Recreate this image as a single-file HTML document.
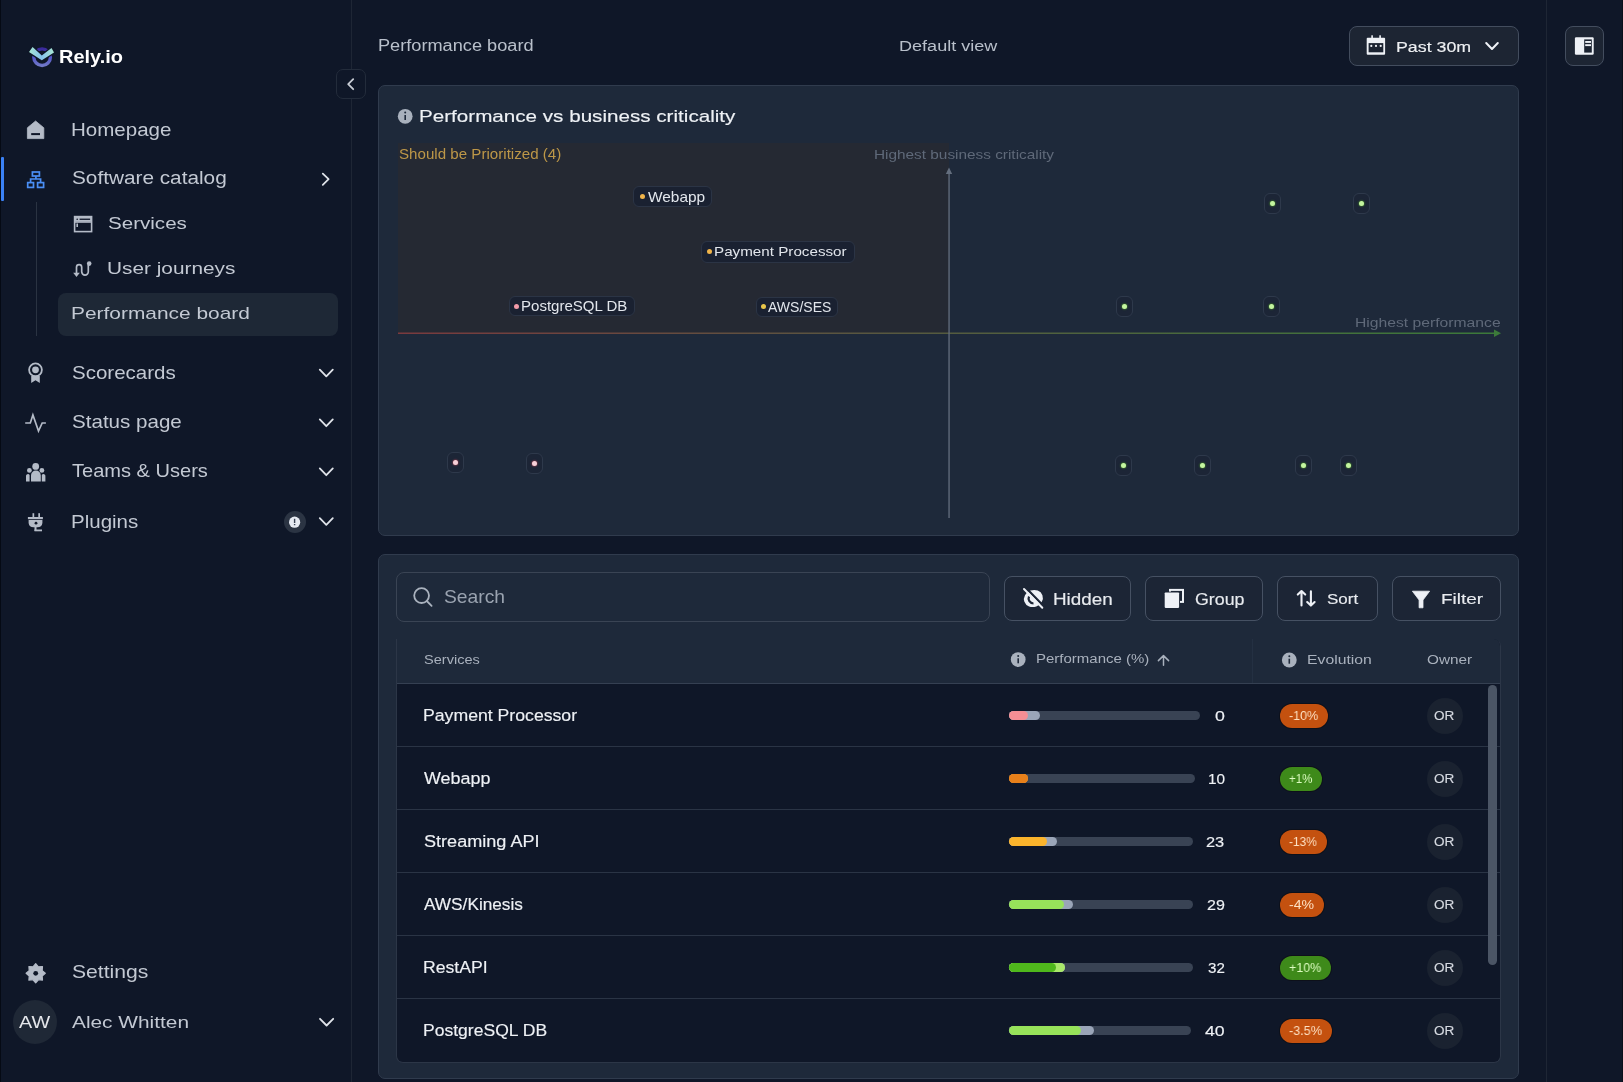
<!DOCTYPE html>
<html><head><meta charset="utf-8"><style>
*{margin:0;padding:0;box-sizing:border-box}
html,body{width:1623px;height:1082px;overflow:hidden;background:#0f1728;font-family:"Liberation Sans",sans-serif}
.t{position:absolute;white-space:pre;transform-origin:0 0;will-change:transform}
.a{position:absolute}
svg{position:absolute;overflow:visible}
</style></head><body>
<div class="a" style="left:0;top:0;width:351px;height:1082px;background:#0f1728"></div>
<div class="a" style="left:351px;top:0;width:1px;height:1082px;background:#1e2635"></div>
<div class="a" style="left:1546px;top:0;width:1px;height:1082px;background:#1e2635"></div>
<div class="a" style="left:0;top:0;width:1px;height:1082px;background:#050a14"></div>
<div class="a" style="left:1622px;top:0;width:1px;height:1082px;background:#0a0f1a"></div>
<div class="a" style="left:1px;top:157px;width:3px;height:44px;background:#3b82f6;border-radius:1px"></div>
<div class="a" style="left:36px;top:202px;width:1px;height:134px;background:#2a3342"></div>
<div class="a" style="left:58px;top:293px;width:280px;height:43px;background:#1e2836;border-radius:8px"></div>
<div class="a" style="left:336px;top:69px;width:30px;height:30px;background:#0f1728;border:1px solid #232c3b;border-radius:7px"></div>
<div class="a" style="left:284px;top:511px;width:22px;height:22px;background:#2b3443;border-radius:50%"></div>
<div class="a" style="left:13px;top:1000px;width:44px;height:44px;background:#1f2836;border-radius:50%"></div>
<div class="a" style="left:1349px;top:26px;width:170px;height:40px;background:#1d2533;border:1px solid #434d5e;border-radius:8px"></div>
<div class="a" style="left:1565px;top:26px;width:39px;height:40px;background:#1d2533;border:1px solid #434d5e;border-radius:8px"></div>
<div class="a" style="left:378px;top:85px;width:141px;height:451px;"></div>
<div class="a" style="left:378px;top:85px;width:1141px;height:451px;background:#1e293a;border:1px solid #303b4d;border-radius:7px"></div>
<div class="a" style="left:398px;top:143px;width:551px;height:190px;background:#252933"></div>
<div class="a" style="left:378px;top:554px;width:1141px;height:525px;background:#1e293a;border:1px solid #303b4d;border-radius:7px"></div>
<div class="a" style="left:396px;top:572px;width:594px;height:50px;background:#1e293a;border:1px solid #3a4454;border-radius:8px"></div>
<div class="a" style="left:1004px;top:576px;width:127px;height:45px;background:#1c2535;border:1px solid #465163;border-radius:8px"></div>
<div class="a" style="left:1145px;top:576px;width:118px;height:45px;background:#1c2535;border:1px solid #465163;border-radius:8px"></div>
<div class="a" style="left:1277px;top:576px;width:101px;height:45px;background:#1c2535;border:1px solid #465163;border-radius:8px"></div>
<div class="a" style="left:1392px;top:576px;width:109px;height:45px;background:#1c2535;border:1px solid #465163;border-radius:8px"></div>
<div class="a" style="left:396px;top:639px;width:105px;height:423px;"></div>
<div class="a" style="left:396px;top:639px;width:1105px;height:424px;background:#0f1728;border:1px solid #2c3647;border-top:none;border-radius:0 7px 7px 7px;overflow:hidden"><div class="a" style="left:0;top:0;width:1105px;height:45px;background:#1e293a"></div><div class="a" style="left:855px;top:0;width:1px;height:45px;background:#243042"></div><div class="a" style="left:0;top:44px;width:1105px;height:1px;background:#354052"></div><div class="a" style="left:0;top:107px;width:1105px;height:1px;background:#2a3445"></div><div class="a" style="left:0;top:170px;width:1105px;height:1px;background:#2a3445"></div><div class="a" style="left:0;top:233px;width:1105px;height:1px;background:#2a3445"></div><div class="a" style="left:0;top:296px;width:1105px;height:1px;background:#2a3445"></div><div class="a" style="left:0;top:359px;width:1105px;height:1px;background:#2a3445"></div></div>
<div class="a" style="left:1488px;top:685px;width:9px;height:280px;background:#4b5565;border-radius:5px"></div>
<svg style="left:0;top:0" width="1623" height="1082"><defs><linearGradient id="hx" x1="0" x2="1"><stop offset="0" stop-color="#7a3a3e"/><stop offset="0.4" stop-color="#5a5540"/><stop offset="1" stop-color="#3c7a3a"/></linearGradient></defs><rect x="398" y="332.5" width="1098" height="1.5" fill="url(#hx)"/><path d="M1494 329.5 L1501 333.2 L1494 337 Z" fill="#3c7a3a"/><rect x="948.4" y="172" width="1.3" height="346" fill="#646e7e"/><path d="M945.8 174 L949 167.5 L952.2 174 Z" fill="#646e7e"/></svg>
<div class="a" style="left:633px;top:186px;width:79px;height:21px;background:#1a2131;border:1px solid #2b3445;border-radius:6px"></div>
<div class="a" style="left:639.8px;top:194.1px;width:5px;height:5px;background:#f0b44a;border-radius:50%"></div>
<div class="a" style="left:701px;top:241px;width:154px;height:22px;background:#1a2131;border:1px solid #2b3445;border-radius:6px"></div>
<div class="a" style="left:707.2px;top:249.1px;width:5px;height:5px;background:#f0b44a;border-radius:50%"></div>
<div class="a" style="left:509px;top:296px;width:126px;height:20px;background:#1a2131;border:1px solid #2b3445;border-radius:6px"></div>
<div class="a" style="left:514.1px;top:303.5px;width:5px;height:5px;background:#f19aa8;border-radius:50%"></div>
<div class="a" style="left:756px;top:297px;width:82px;height:20px;background:#1a2131;border:1px solid #2b3445;border-radius:6px"></div>
<div class="a" style="left:760.6px;top:304.1px;width:5px;height:5px;background:#e8c54a;border-radius:50%"></div>
<div class="a" style="left:1263.9px;top:192.9px;width:17px;height:21px;background:#1c2536;border:1px solid #2e394b;border-radius:6px"></div>
<div class="a" style="left:1269.9px;top:200.9px;width:5px;height:5px;background:#c4f5a0;border-radius:50%;box-shadow:0 0 1.5px 0.5px #3f7a2a"></div>
<div class="a" style="left:1352.9px;top:192.9px;width:17px;height:21px;background:#1c2536;border:1px solid #2e394b;border-radius:6px"></div>
<div class="a" style="left:1358.9px;top:200.9px;width:5px;height:5px;background:#c4f5a0;border-radius:50%;box-shadow:0 0 1.5px 0.5px #3f7a2a"></div>
<div class="a" style="left:1116.1px;top:295.5px;width:17px;height:21px;background:#1c2536;border:1px solid #2e394b;border-radius:6px"></div>
<div class="a" style="left:1122.1px;top:303.5px;width:5px;height:5px;background:#c4f5a0;border-radius:50%;box-shadow:0 0 1.5px 0.5px #3f7a2a"></div>
<div class="a" style="left:1262.8px;top:295.5px;width:17px;height:21px;background:#1c2536;border:1px solid #2e394b;border-radius:6px"></div>
<div class="a" style="left:1268.8px;top:303.5px;width:5px;height:5px;background:#c4f5a0;border-radius:50%;box-shadow:0 0 1.5px 0.5px #3f7a2a"></div>
<div class="a" style="left:1115.3px;top:454.5px;width:17px;height:21px;background:#1c2536;border:1px solid #2e394b;border-radius:6px"></div>
<div class="a" style="left:1121.3px;top:462.5px;width:5px;height:5px;background:#c4f5a0;border-radius:50%;box-shadow:0 0 1.5px 0.5px #3f7a2a"></div>
<div class="a" style="left:1193.8px;top:454.5px;width:17px;height:21px;background:#1c2536;border:1px solid #2e394b;border-radius:6px"></div>
<div class="a" style="left:1199.8px;top:462.5px;width:5px;height:5px;background:#c4f5a0;border-radius:50%;box-shadow:0 0 1.5px 0.5px #3f7a2a"></div>
<div class="a" style="left:1295.3px;top:454.5px;width:17px;height:21px;background:#1c2536;border:1px solid #2e394b;border-radius:6px"></div>
<div class="a" style="left:1301.3px;top:462.5px;width:5px;height:5px;background:#c4f5a0;border-radius:50%;box-shadow:0 0 1.5px 0.5px #3f7a2a"></div>
<div class="a" style="left:1340.3px;top:454.5px;width:17px;height:21px;background:#1c2536;border:1px solid #2e394b;border-radius:6px"></div>
<div class="a" style="left:1346.3px;top:462.5px;width:5px;height:5px;background:#c4f5a0;border-radius:50%;box-shadow:0 0 1.5px 0.5px #3f7a2a"></div>
<div class="a" style="left:446.7px;top:451.9px;width:17px;height:21px;background:#1c2536;border:1px solid #2e394b;border-radius:6px"></div>
<div class="a" style="left:452.7px;top:459.9px;width:5px;height:5px;background:#f6d0d8;border-radius:50%;box-shadow:0 0 1.5px 0.5px #8a3a4a"></div>
<div class="a" style="left:525.7px;top:453.1px;width:17px;height:21px;background:#1c2536;border:1px solid #2e394b;border-radius:6px"></div>
<div class="a" style="left:531.7px;top:461.1px;width:5px;height:5px;background:#f6d0d8;border-radius:50%;box-shadow:0 0 1.5px 0.5px #8a3a4a"></div>
<div class="a" style="left:1008.6px;top:711.0px;width:191.8px;height:9.2px;background:#394354;border-radius:5px"></div>
<div class="a" style="left:1008.6px;top:711.0px;width:31.4px;height:9.2px;background:#9aa5b8;border-radius:5px"></div>
<div class="a" style="left:1008.6px;top:711.0px;width:19.4px;height:9.2px;background:#f58e94;border-radius:5px"></div>
<div class="a" style="left:1008.6px;top:774.0px;width:186.7px;height:9.2px;background:#394354;border-radius:5px"></div>
<div class="a" style="left:1008.6px;top:774.0px;width:19.4px;height:9.2px;background:#f5a53a;border-radius:5px"></div>
<div class="a" style="left:1008.6px;top:774.0px;width:19.4px;height:9.2px;background:#e8801a;border-radius:5px"></div>
<div class="a" style="left:1008.6px;top:837.1px;width:184.0px;height:9.2px;background:#394354;border-radius:5px"></div>
<div class="a" style="left:1008.6px;top:837.1px;width:48.4px;height:9.2px;background:#9aa5b8;border-radius:5px"></div>
<div class="a" style="left:1008.6px;top:837.1px;width:38.4px;height:9.2px;background:#fbb42c;border-radius:5px"></div>
<div class="a" style="left:1008.6px;top:900.1px;width:184.4px;height:9.2px;background:#394354;border-radius:5px"></div>
<div class="a" style="left:1008.6px;top:900.1px;width:64.2px;height:9.2px;background:#9aa5b8;border-radius:5px"></div>
<div class="a" style="left:1008.6px;top:900.1px;width:55.7px;height:9.2px;background:#97e35a;border-radius:5px"></div>
<div class="a" style="left:1008.6px;top:963.2px;width:184.9px;height:9.2px;background:#394354;border-radius:5px"></div>
<div class="a" style="left:1008.6px;top:963.2px;width:56.4px;height:9.2px;background:#9aa5b8;border-radius:5px"></div>
<div class="a" style="left:1008.6px;top:963.2px;width:56.4px;height:9.2px;background:#a9e86a;border-radius:5px"></div>
<div class="a" style="left:1008.6px;top:963.2px;width:47.4px;height:9.2px;background:#4fb81c;border-radius:5px"></div>
<div class="a" style="left:1008.6px;top:1026.2px;width:182.2px;height:9.2px;background:#394354;border-radius:5px"></div>
<div class="a" style="left:1008.6px;top:1026.2px;width:85.4px;height:9.2px;background:#9aa5b8;border-radius:5px"></div>
<div class="a" style="left:1008.6px;top:1026.2px;width:72.8px;height:9.2px;background:#97e35a;border-radius:5px"></div>
<div class="a" style="left:1280px;top:703.8px;width:48.3px;height:24.4px;background:#c4510f;border-radius:12px;box-shadow:0 0 0 1px rgba(10,8,8,0.45)"></div>
<div class="a" style="left:1426.7px;top:698.0px;width:36px;height:36px;background:#1a2230;border-radius:50%"></div>
<div class="a" style="left:1280px;top:766.8px;width:42.4px;height:24.4px;background:#3e8a1a;border-radius:12px;box-shadow:0 0 0 1px rgba(10,8,8,0.45)"></div>
<div class="a" style="left:1426.7px;top:761.0px;width:36px;height:36px;background:#1a2230;border-radius:50%"></div>
<div class="a" style="left:1280px;top:829.9px;width:47.0px;height:24.4px;background:#c4510f;border-radius:12px;box-shadow:0 0 0 1px rgba(10,8,8,0.45)"></div>
<div class="a" style="left:1426.7px;top:824.1px;width:36px;height:36px;background:#1a2230;border-radius:50%"></div>
<div class="a" style="left:1280px;top:892.9px;width:44.1px;height:24.4px;background:#c4510f;border-radius:12px;box-shadow:0 0 0 1px rgba(10,8,8,0.45)"></div>
<div class="a" style="left:1426.7px;top:887.1px;width:36px;height:36px;background:#1a2230;border-radius:50%"></div>
<div class="a" style="left:1280px;top:956.0px;width:51.3px;height:24.4px;background:#3e8a1a;border-radius:12px;box-shadow:0 0 0 1px rgba(10,8,8,0.45)"></div>
<div class="a" style="left:1426.7px;top:950.2px;width:36px;height:36px;background:#1a2230;border-radius:50%"></div>
<div class="a" style="left:1280px;top:1019.0px;width:52.0px;height:24.4px;background:#c4510f;border-radius:12px;box-shadow:0 0 0 1px rgba(10,8,8,0.45)"></div>
<div class="a" style="left:1426.7px;top:1013.2px;width:36px;height:36px;background:#1a2230;border-radius:50%"></div>
<svg style="left:0;top:0" width="1623" height="1082" viewBox="0 0 1623 1082">
<defs>
<linearGradient id="lg1" x1="0" y1="0" x2="1" y2="0"><stop offset="0" stop-color="#a8e6d0"/><stop offset="0.5" stop-color="#86c4ee"/><stop offset="1" stop-color="#a8e6d0"/></linearGradient>
<linearGradient id="lg2" x1="0" y1="0" x2="0" y2="1"><stop offset="0" stop-color="#3a2a9a"/><stop offset="0.45" stop-color="#5050c8"/><stop offset="1" stop-color="#7078c8"/></linearGradient>
</defs>
<!-- logo -->
<circle cx="42.1" cy="57.2" r="8.3" fill="none" stroke="url(#lg2)" stroke-width="3.4"/>
<path d="M32.6,47.1 L41.8,55.5 L51.5,48 L54,52.5 L41.8,60.2 L29,52.1 Z" fill="#0f1728" stroke="#0f1728" stroke-width="2.6" stroke-linejoin="round"/>
<path d="M32.6,47.1 L41.8,55.5 L51.5,48 L54,52.5 L41.8,60.2 L29,52.1 Z" fill="url(#lg1)"/>
<!-- home -->
<path d="M27.4,127.8 L35.6,121 L43.8,127.8 L43.8,138.6 L27.4,138.6 Z" fill="#b4bbc7" stroke="#b4bbc7" stroke-width="0.8" stroke-linejoin="round"/>
<rect x="31.2" y="133.1" width="8.8" height="2" fill="#0f1728"/>
<!-- hierarchy -->
<g fill="none" stroke="#4a8ff5" stroke-width="1.7">
<rect x="32.4" y="172" width="7" height="4"/>
<rect x="27.7" y="182.6" width="5.8" height="4.8"/>
<rect x="37.6" y="182.6" width="6" height="4.8"/>
<path d="M35.9,176 V179 M30.6,182.6 V179 H40.6 V182.6"/>
</g>
<!-- services -->
<g fill="none" stroke="#b4bbc7" stroke-width="1.6">
<rect x="74.6" y="216.6" width="17" height="15"/>
<path d="M74.6,222 H91.6"/>
</g>
<g fill="#b4bbc7"><rect x="74.6" y="216.6" width="17" height="5"/></g>
<g fill="#0f1728"><circle cx="77.2" cy="219.3" r="0.8"/><rect x="79.6" y="218.6" width="10.5" height="1.3"/></g>
<rect x="76.4" y="223.5" width="1.6" height="3.5" fill="#b4bbc7"/>
<!-- user journeys -->
<g fill="none" stroke="#b4bbc7" stroke-width="1.7" stroke-linecap="round">
<path d="M76.5,273.5 V267.2 a2.6,2.6 0 0 1 5.2,0 V271.8 a3.3,3.3 0 0 0 6.6,0 V265"/>
</g>
<path d="M73.2,272.8 L79.8,272.8 L76.5,277 Z" fill="#b4bbc7"/>
<circle cx="89.2" cy="263.6" r="2.3" fill="#b4bbc7"/>
<!-- scorecards -->
<circle cx="35.5" cy="369.8" r="6.4" fill="none" stroke="#b4bbc7" stroke-width="1.8"/>
<circle cx="35.5" cy="369.8" r="3.4" fill="#b4bbc7"/>
<path d="M31.2,376 L31.2,383 L35.5,380.2 L39.8,383 L39.8,376 Z" fill="#b4bbc7"/>
<!-- status -->
<polyline points="25.2,423 30.3,423 32.9,415 38.5,431 42.2,423 45.9,423" fill="none" stroke="#b4bbc7" stroke-width="1.7" stroke-linejoin="miter"/>
<!-- teams -->
<g fill="#b4bbc7">
<circle cx="35.7" cy="466.4" r="3.4"/>
<circle cx="29.4" cy="470.4" r="2.4"/>
<circle cx="41.9" cy="470.4" r="2.4"/>
<path d="M31,481.5 V475.5 a4.9,4.9 0 0 1 9.8,0 V481.5 Z"/>
<path d="M26,481.5 V476.5 a2,2 0 0 1 3.6,-1.5 V481.5 Z"/>
<path d="M45.4,481.5 V476.5 a2,2 0 0 0 -3.6,-1.5 V481.5 Z"/>
</g>
<!-- plugins -->
<g fill="#b4bbc7">
<rect x="32.5" y="513.2" width="1.7" height="4.5"/>
<rect x="38.3" y="513.2" width="1.7" height="4.5"/>
<rect x="27.9" y="517" width="15" height="2.2"/>
<path d="M28.6,520 H42.4 V523 a5,5 0 0 1 -5,4.3 H33.6 a5,5 0 0 1 -5,-4.3 Z"/>
<rect x="34.5" y="527" width="2" height="4"/>
<rect x="34.5" y="529.5" width="7.5" height="1.8"/>
</g>
<circle cx="36" cy="523.2" r="1.4" fill="#0f1728"/>
<!-- settings gear -->
<g transform="translate(35.7 973.3)">
<path fill="#b4bbc7" stroke="#b4bbc7" stroke-width="1.2" stroke-linejoin="round" d="M0.00,-9.60 L2.68,-6.47 L6.79,-6.79 L6.47,-2.68 L9.60,0.00 L6.47,2.68 L6.79,6.79 L2.68,6.47 L0.00,9.60 L-2.68,6.47 L-6.79,6.79 L-6.47,2.68 L-9.60,0.00 L-6.47,-2.68 L-6.79,-6.79 L-2.68,-6.47 Z"/>
<circle r="2.4" fill="#0f1728"/>
</g>
<!-- chevrons sidebar -->
<g fill="none" stroke="#dfe3e9" stroke-width="1.8" stroke-linecap="round" stroke-linejoin="round">
<polyline points="322.8,173.6 328.6,179.2 322.8,184.8"/>
<polyline points="319.8,369.6 326.3,376.3 332.8,369.6"/>
<polyline points="319.8,419.4 326.3,426.2 332.8,419.4"/>
<polyline points="319.8,468.4 326.3,475.2 332.8,468.4"/>
<polyline points="319.8,518.2 326.3,524.8 332.8,518.2"/>
<polyline points="320,1018.8 326.6,1025.5 333.2,1018.8"/>
<polyline points="353.2,79.2 348.2,84.2 353.2,89.2" stroke="#c9ced6"/>
<polyline points="1486.2,43 1492,49 1497.8,43" stroke="#eef1f6" stroke-width="2"/>
</g>
<!-- plugins badge inner -->
<circle cx="294.6" cy="522.2" r="5.6" fill="#e6eaf2"/>
<rect x="293.9" y="518.8" width="1.4" height="4.2" fill="#3a4354"/>
<rect x="293.9" y="524" width="1.4" height="1.2" fill="#3a4354"/>
<!-- calendar -->
<g fill="#eef1f6">
<rect x="1366.7" y="37.8" width="18.4" height="16.9" rx="1"/>
<rect x="1371.3" y="35.3" width="1.6" height="3"/>
<rect x="1379.3" y="35.3" width="1.6" height="3"/>
</g>
<rect x="1368.6" y="43.1" width="14.7" height="9.2" fill="#1b2331"/>
<g fill="#eef1f6"><circle cx="1371.3" cy="45.9" r="1.1"/><circle cx="1376" cy="45.9" r="1.1"/><circle cx="1380.7" cy="45.9" r="1.1"/></g>
<!-- panel icon -->
<rect x="1574.9" y="37.3" width="18.8" height="17.5" rx="1.2" fill="#eef1f6"/>
<rect x="1584.2" y="39.4" width="7.6" height="13.2" fill="#1b2331"/>
<rect x="1585.2" y="41" width="5.8" height="1.9" fill="#eef1f6"/>
<rect x="1585.2" y="44.2" width="5.8" height="1.9" fill="#eef1f6"/>
<!-- card title info -->
<circle cx="405.2" cy="116.3" r="7.4" fill="#a9b1bd"/>
<rect x="404.4" y="115" width="1.6" height="5" fill="#1e293a"/>
<circle cx="405.2" cy="112.6" r="1" fill="#1e293a"/>
<!-- search -->
<circle cx="421.6" cy="595.6" r="7.4" fill="none" stroke="#aab2be" stroke-width="1.8"/>
<path d="M426.8,601 L431.6,605.8" stroke="#aab2be" stroke-width="1.8" stroke-linecap="round"/>
<!-- hidden eye -->
<g>
<ellipse cx="1033.4" cy="598.5" rx="9.6" ry="8.4" fill="#eef1f6" transform="rotate(-20 1033.4 598.5)"/>
<path d="M1029,596.5 a5,5 0 0 0 4.5,7" fill="none" stroke="#1c2535" stroke-width="2.2"/>
<path d="M1025.5,587.5 L1044.5,607" stroke="#1c2535" stroke-width="2.4"/>
<path d="M1024,589 L1042.3,607.8" stroke="#eef1f6" stroke-width="2" stroke-linecap="round"/>
</g>
<!-- group -->
<rect x="1170" y="589.9" width="13" height="12" fill="none" stroke="#eef1f6" stroke-width="2"/>
<rect x="1163.8" y="591.6" width="16.2" height="17.2" fill="#1c2535"/>
<rect x="1164.7" y="592.5" width="14.4" height="15.4" rx="0.8" fill="#eef1f6"/>
<!-- sort -->
<g stroke="#eef1f6" stroke-width="2.1" fill="none" stroke-linecap="round" stroke-linejoin="round">
<path d="M1301.5,591.5 V605.5 M1297.8,594.6 L1301.5,591 L1305.2,594.6"/>
<path d="M1310.9,591.2 V605 M1307.2,602 L1310.9,605.6 L1314.6,602"/>
</g>
<!-- filter -->
<path d="M1412.4,591.2 L1429.6,591.2 L1423,600 L1423,607.8 L1419.1,607.8 L1419.1,600 Z" fill="#eef1f6" stroke="#eef1f6" stroke-width="0.8" stroke-linejoin="round"/>
<!-- table header icons -->
<circle cx="1018.2" cy="659.6" r="7.4" fill="#a9b1bd"/>
<rect x="1017.4" y="658.3" width="1.6" height="5" fill="#1e293a"/>
<circle cx="1018.2" cy="655.9" r="1" fill="#1e293a"/>
<circle cx="1289.3" cy="660" r="7.4" fill="#a9b1bd"/>
<rect x="1288.5" y="658.7" width="1.6" height="5" fill="#1e293a"/>
<circle cx="1289.3" cy="656.3" r="1" fill="#1e293a"/>
<g stroke="#a9b1bd" stroke-width="1.5" fill="none" stroke-linecap="round" stroke-linejoin="round">
<path d="M1163.5,655.8 V665.2 M1158.4,660.6 L1163.5,655.6 L1168.6,660.6"/>
</g>
</svg>

<div class="t" style="left:59.42px;top:47.62px;font-size:18.52px;line-height:18.52px;color:#ffffff;font-weight:bold;transform:scaleX(1.078)">Rely.io</div>
<div class="t" style="left:71.47px;top:120.56px;font-size:18.24px;line-height:18.24px;color:#c3c9d3;transform:scaleX(1.126)">Homepage</div>
<div class="t" style="left:72.30px;top:169.90px;font-size:17.83px;line-height:17.83px;color:#c3c9d3;transform:scaleX(1.165)">Software catalog</div>
<div class="t" style="left:107.80px;top:215.37px;font-size:17.28px;line-height:17.28px;color:#c3c9d3;transform:scaleX(1.191)">Services</div>
<div class="t" style="left:106.76px;top:260.83px;font-size:16.74px;line-height:16.74px;color:#c3c9d3;transform:scaleX(1.243)">User journeys</div>
<div class="t" style="left:71.28px;top:305.49px;font-size:17.15px;line-height:17.15px;color:#c3c9d3;transform:scaleX(1.219)">Performance board</div>
<div class="t" style="left:72.00px;top:364.64px;font-size:17.56px;line-height:17.56px;color:#c3c9d3;transform:scaleX(1.169)">Scorecards</div>
<div class="t" style="left:72.00px;top:413.92px;font-size:17.70px;line-height:17.70px;color:#c3c9d3;transform:scaleX(1.163)">Status page</div>
<div class="t" style="left:72.00px;top:462.79px;font-size:17.97px;line-height:17.97px;color:#c3c9d3;transform:scaleX(1.116)">Teams &amp; Users</div>
<div class="t" style="left:70.87px;top:512.57px;font-size:18.11px;line-height:18.11px;color:#c3c9d3;transform:scaleX(1.132)">Plugins</div>
<div class="t" style="left:72.00px;top:964.10px;font-size:17.83px;line-height:17.83px;color:#c3c9d3;transform:scaleX(1.186)">Settings</div>
<div class="t" style="left:72.00px;top:1014.49px;font-size:17.15px;line-height:17.15px;color:#c3c9d3;transform:scaleX(1.216)">Alec Whitten</div>
<div class="t" style="left:18.60px;top:1014.49px;font-size:17.15px;line-height:17.15px;color:#e5e7eb;transform:scaleX(1.155)">AW</div>
<div class="t" style="left:378.24px;top:38.46px;font-size:15.64px;line-height:15.64px;color:#b9c0cb;transform:scaleX(1.163)">Performance board</div>
<div class="t" style="left:898.52px;top:38.39px;font-size:15.36px;line-height:15.36px;color:#b9c0cb;transform:scaleX(1.176)">Default view</div>
<div class="t" style="left:1396.23px;top:38.71px;font-size:15.23px;line-height:15.23px;color:#eef0f3;-webkit-text-stroke:0.15px #eef0f3;transform:scaleX(1.169)">Past 30m</div>
<div class="t" style="left:418.81px;top:107.95px;font-size:17.42px;line-height:17.42px;color:#eef1f5;-webkit-text-stroke:0.15px #eef1f5;transform:scaleX(1.185)">Performance vs business criticality</div>
<div class="t" style="left:399.30px;top:148.39px;font-size:13.72px;line-height:13.72px;color:#bd9748;transform:scaleX(1.103)">Should be Prioritized (4)</div>
<div class="t" style="left:874.30px;top:149.20px;font-size:12.76px;line-height:12.76px;color:#5f6979;transform:scaleX(1.204)">Highest business criticality</div>
<div class="t" style="left:1354.96px;top:317.02px;font-size:12.62px;line-height:12.62px;color:#5f6979;transform:scaleX(1.244)">Highest performance</div>
<div class="t" style="left:647.70px;top:189.54px;font-size:14.13px;line-height:14.13px;color:#e2e6ec;transform:scaleX(1.092)">Webapp</div>
<div class="t" style="left:714.07px;top:245.02px;font-size:13.44px;line-height:13.44px;color:#e2e6ec;transform:scaleX(1.131)">Payment Processor</div>
<div class="t" style="left:520.51px;top:299.57px;font-size:13.85px;line-height:13.85px;color:#e2e6ec;transform:scaleX(1.086)">PostgreSQL DB</div>
<div class="t" style="left:768.00px;top:300.16px;font-size:13.99px;line-height:13.99px;color:#e2e6ec;transform:scaleX(1.002)">AWS/SES</div>
<div class="t" style="left:443.80px;top:588.72px;font-size:17.70px;line-height:17.70px;color:#9aa3b0;transform:scaleX(1.090)">Search</div>
<div class="t" style="left:1053.32px;top:590.71px;font-size:16.05px;line-height:16.05px;color:#e8ebef;-webkit-text-stroke:0.15px #e8ebef;transform:scaleX(1.176)">Hidden</div>
<div class="t" style="left:1194.80px;top:590.71px;font-size:16.05px;line-height:16.05px;color:#e8ebef;-webkit-text-stroke:0.15px #e8ebef;transform:scaleX(1.109)">Group</div>
<div class="t" style="left:1327.00px;top:591.41px;font-size:15.23px;line-height:15.23px;color:#e8ebef;-webkit-text-stroke:0.15px #e8ebef;transform:scaleX(1.116)">Sort</div>
<div class="t" style="left:1441.08px;top:591.18px;font-size:15.50px;line-height:15.50px;color:#e8ebef;-webkit-text-stroke:0.15px #e8ebef;transform:scaleX(1.223)">Filter</div>
<div class="t" style="left:423.70px;top:653.83px;font-size:12.48px;line-height:12.48px;color:#a9b1bd;transform:scaleX(1.167)">Services</div>
<div class="t" style="left:1035.54px;top:653.48px;font-size:12.89px;line-height:12.89px;color:#a9b1bd;transform:scaleX(1.164)">Performance (%)</div>
<div class="t" style="left:1306.65px;top:653.82px;font-size:12.62px;line-height:12.62px;color:#a9b1bd;transform:scaleX(1.249)">Evolution</div>
<div class="t" style="left:1426.70px;top:653.82px;font-size:12.62px;line-height:12.62px;color:#a9b1bd;transform:scaleX(1.215)">Owner</div>
<div class="t" style="left:422.89px;top:708.13px;font-size:15.91px;line-height:15.91px;color:#eef1f5;-webkit-text-stroke:0.15px #eef1f5;transform:scaleX(1.110)">Payment Processor</div>
<div class="t" style="left:1214.80px;top:708.74px;font-size:14.95px;line-height:14.95px;color:#eef1f5;-webkit-text-stroke:0.15px #eef1f5;transform:scaleX(1.188)">0</div>
<div class="t" style="left:1289.40px;top:709.20px;font-size:13.58px;line-height:13.58px;color:#fde0c2;transform:scaleX(0.923)">-10%</div>
<div class="t" style="left:1434.40px;top:709.72px;font-size:12.62px;line-height:12.62px;color:#d5d9e0;-webkit-text-stroke:0.15px #d5d9e0;transform:scaleX(1.074)">OR</div>
<div class="t" style="left:424.00px;top:771.18px;font-size:15.91px;line-height:15.91px;color:#eef1f5;-webkit-text-stroke:0.15px #eef1f5;transform:scaleX(1.127)">Webapp</div>
<div class="t" style="left:1207.57px;top:771.79px;font-size:14.95px;line-height:14.95px;color:#eef1f5;-webkit-text-stroke:0.15px #eef1f5;transform:scaleX(1.026)">10</div>
<div class="t" style="left:1289.40px;top:772.25px;font-size:13.58px;line-height:13.58px;color:#dcfcc0;transform:scaleX(0.848)">+1%</div>
<div class="t" style="left:1434.40px;top:772.77px;font-size:12.62px;line-height:12.62px;color:#d5d9e0;-webkit-text-stroke:0.15px #d5d9e0;transform:scaleX(1.074)">OR</div>
<div class="t" style="left:424.00px;top:834.23px;font-size:15.91px;line-height:15.91px;color:#eef1f5;-webkit-text-stroke:0.15px #eef1f5;transform:scaleX(1.137)">Streaming API</div>
<div class="t" style="left:1206.40px;top:834.84px;font-size:14.95px;line-height:14.95px;color:#eef1f5;-webkit-text-stroke:0.15px #eef1f5;transform:scaleX(1.098)">23</div>
<div class="t" style="left:1289.40px;top:835.30px;font-size:13.58px;line-height:13.58px;color:#fde0c2;transform:scaleX(0.882)">-13%</div>
<div class="t" style="left:1434.40px;top:835.82px;font-size:12.62px;line-height:12.62px;color:#d5d9e0;-webkit-text-stroke:0.15px #d5d9e0;transform:scaleX(1.074)">OR</div>
<div class="t" style="left:424.00px;top:897.28px;font-size:15.91px;line-height:15.91px;color:#eef1f5;-webkit-text-stroke:0.15px #eef1f5;transform:scaleX(1.083)">AWS/Kinesis</div>
<div class="t" style="left:1206.80px;top:897.89px;font-size:14.95px;line-height:14.95px;color:#eef1f5;-webkit-text-stroke:0.15px #eef1f5;transform:scaleX(1.073)">29</div>
<div class="t" style="left:1289.40px;top:898.35px;font-size:13.58px;line-height:13.58px;color:#fde0c2;transform:scaleX(1.039)">-4%</div>
<div class="t" style="left:1434.40px;top:898.87px;font-size:12.62px;line-height:12.62px;color:#d5d9e0;-webkit-text-stroke:0.15px #d5d9e0;transform:scaleX(1.074)">OR</div>
<div class="t" style="left:422.89px;top:960.33px;font-size:15.91px;line-height:15.91px;color:#eef1f5;-webkit-text-stroke:0.15px #eef1f5;transform:scaleX(1.109)">RestAPI</div>
<div class="t" style="left:1207.80px;top:960.94px;font-size:14.95px;line-height:14.95px;color:#eef1f5;-webkit-text-stroke:0.15px #eef1f5;transform:scaleX(1.012)">32</div>
<div class="t" style="left:1289.40px;top:961.40px;font-size:13.58px;line-height:13.58px;color:#dcfcc0;transform:scaleX(0.919)">+10%</div>
<div class="t" style="left:1434.40px;top:961.92px;font-size:12.62px;line-height:12.62px;color:#d5d9e0;-webkit-text-stroke:0.15px #d5d9e0;transform:scaleX(1.074)">OR</div>
<div class="t" style="left:422.90px;top:1023.38px;font-size:15.91px;line-height:15.91px;color:#eef1f5;-webkit-text-stroke:0.15px #eef1f5;transform:scaleX(1.103)">PostgreSQL DB</div>
<div class="t" style="left:1205.00px;top:1023.99px;font-size:14.95px;line-height:14.95px;color:#eef1f5;-webkit-text-stroke:0.15px #eef1f5;transform:scaleX(1.184)">40</div>
<div class="t" style="left:1289.40px;top:1024.45px;font-size:13.58px;line-height:13.58px;color:#fde0c2;transform:scaleX(0.929)">-3.5%</div>
<div class="t" style="left:1434.40px;top:1024.97px;font-size:12.62px;line-height:12.62px;color:#d5d9e0;-webkit-text-stroke:0.15px #d5d9e0;transform:scaleX(1.074)">OR</div>
</body></html>
